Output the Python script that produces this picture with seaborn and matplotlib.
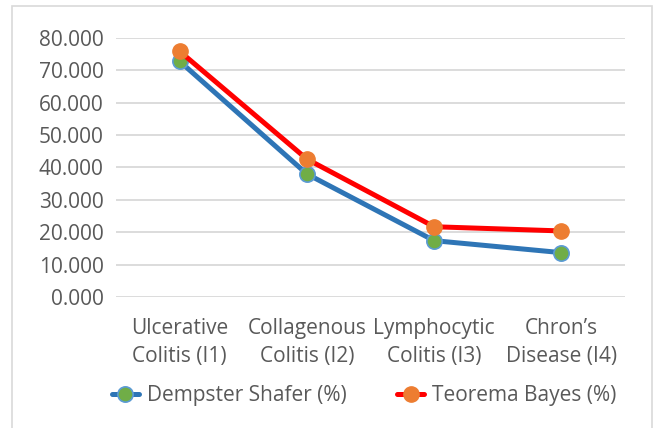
import matplotlib
matplotlib.use("Agg")
import matplotlib.pyplot as plt
import pandas as pd
import seaborn as sns
from matplotlib.patches import Rectangle

# Values
categories = ["Ulcerative\nColitis (I1)", "Collagenous\nColitis (I2)",
              "Lymphocytic\nColitis (I3)", "Chron\u2019s\nDisease (I4)"]
dempster_shafer = [72.8, 38.0, 17.4, 13.7]
teorema_bayes = [75.9, 42.6, 21.7, 20.4]
y_ticks = [0, 10, 20, 30, 40, 50, 60, 70, 80]

sns.set_style("white")
plt.rcParams['font.family'] = ['Open Sans', 'DejaVu Sans']

text_col = "#595959"
fs = 15
fig = plt.figure(figsize=(6.54, 4.28), dpi=100)
ax = fig.add_axes([0.1774, 0.3061, 0.7783, 0.6051])

# chart area border
fig.patches.append(Rectangle((12 / 654, -0.01), 641 / 654 - 0.001, 1 - 6 / 428 + 0.01,
                             transform=fig.transFigure, fill=False,
                             edgecolor="#D9D9D9", linewidth=1.2))

df = pd.DataFrame({"cat": categories, "ds": dempster_shafer, "tb": teorema_bayes})

sns.lineplot(data=df, x="cat", y="ds", ax=ax, sort=False, color="#2E75B6",
             linewidth=3.6, marker="o", markersize=10, markerfacecolor="#70AD47",
             markeredgecolor="#5B9BD5", markeredgewidth=1.2,
             label="Dempster Shafer (%)", zorder=3)
sns.lineplot(data=df, x="cat", y="tb", ax=ax, sort=False, color="#FF0000",
             linewidth=3.6, marker="o", markersize=10.5, markerfacecolor="#ED7D31",
             markeredgecolor="#ED7D31", markeredgewidth=1.0,
             label="Teorema Bayes (%)", zorder=4)

ax.set_xlim(-0.5, 3.5)
ax.set_ylim(0, 80)
ax.set_yticks(y_ticks)
ax.set_yticklabels([f"{v:.3f}" for v in y_ticks])
ax.grid(axis="y", color="#D9D9D9", linewidth=1.3)
ax.set_axisbelow(True)
for s in ax.spines.values():
    s.set_visible(False)
ax.tick_params(axis="both", length=0, labelsize=fs, labelcolor=text_col)
ax.tick_params(axis="y", pad=9)
ax.tick_params(axis="x", pad=15)
for lab in ax.get_xticklabels():
    lab.set_linespacing(1.45)
ax.set_xlabel("")
ax.set_ylabel("")

handles, labels = ax.get_legend_handles_labels()
ax.get_legend().remove()
for h in handles:
    h.set_markersize(11)
fig.legend(handles, labels, loc="center", bbox_to_anchor=(0.557, 0.075), ncol=2,
           frameon=False, fontsize=fs, labelcolor=text_col, handlelength=1.3,
           handletextpad=0.4, columnspacing=2.4)

fig.savefig("out.png", dpi=100)
